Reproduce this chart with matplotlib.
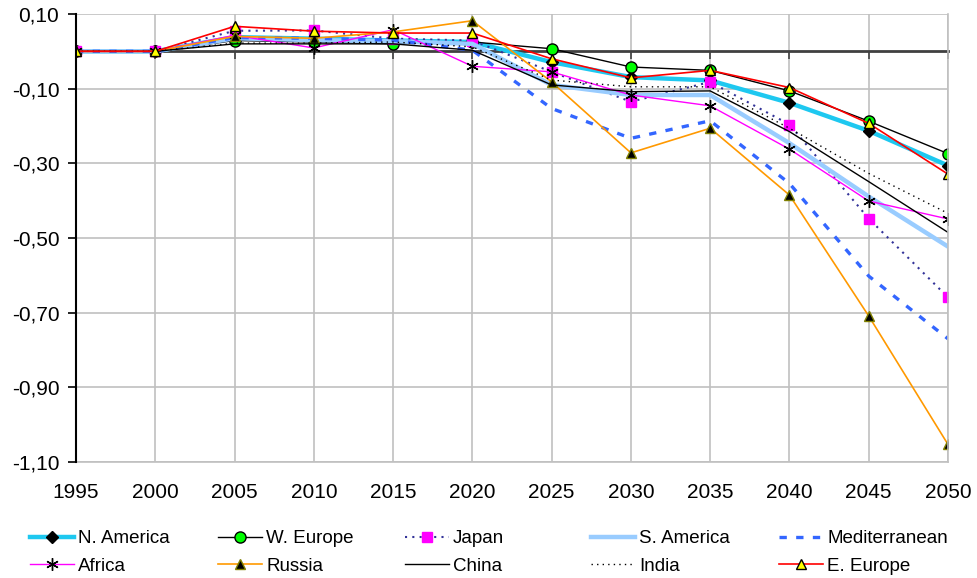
import matplotlib
matplotlib.use("Agg")
import matplotlib.pyplot as plt
from matplotlib.ticker import FixedLocator, FuncFormatter

plt.rcParams['font.family'] = ['Liberation Sans', 'DejaVu Sans']

years = [1995, 2000, 2005, 2010, 2015, 2020, 2025, 2030, 2035, 2040, 2045, 2050]

n_america = [0, 0, 0.038, 0.034, 0.029, 0.025, -0.029, -0.069, -0.078, -0.138, -0.213, -0.306]
w_europe = [0, 0, 0.029, 0.025, 0.020, 0.025, 0.007, -0.042, -0.051, -0.106, -0.187, -0.274]
japan = [0, 0, 0.055, 0.056, 0.034, 0.029, -0.055, -0.135, -0.082, -0.196, -0.448, -0.659]
s_america = [0, 0, 0.035, 0.030, 0.027, 0.020, -0.090, -0.117, -0.117, -0.246, -0.389, -0.523]
mediterranean = [0, 0, 0.037, 0.035, 0.030, 0.003, -0.153, -0.233, -0.186, -0.354, -0.602, -0.770]
africa = [0, 0, 0.043, 0.009, 0.058, -0.040, -0.055, -0.117, -0.146, -0.262, -0.401, -0.449]
russia = [0, 0, 0.040, 0.035, 0.052, 0.082, -0.082, -0.272, -0.206, -0.385, -0.709, -1.053]
china = [0, 0, 0.020, 0.020, 0.020, 0.003, -0.090, -0.108, -0.106, -0.215, -0.349, -0.485]
india = [0, 0, 0.022, 0.022, 0.025, 0.012, -0.077, -0.095, -0.095, -0.206, -0.327, -0.434]
e_europe = [0, 0, 0.067, 0.054, 0.049, 0.049, -0.020, -0.071, -0.051, -0.097, -0.193, -0.329]

y_ticks = [0.10, -0.10, -0.30, -0.50, -0.70, -0.90, -1.10]

fig = plt.figure(figsize=(9.77, 5.78), dpi=100)
ax = fig.add_axes([76 / 977, 1 - 462 / 578, (948 - 76) / 977, (462 - 14) / 578])

h = {}
h['N. America'], = ax.plot(years, n_america, color='#1EC8F0', lw=3.2, marker='D', ms=6,
                           mfc='black', mec='black', label='N. America')
h['W. Europe'], = ax.plot(years, w_europe, color='black', lw=1.0, marker='o', ms=8,
                          mfc='#00FF00', mec='black', mew=1.0, label='W. Europe')
h['Japan'], = ax.plot(years, japan, color='#333399', lw=1.5, ls=(0, (1, 2.5)), marker='s', ms=6.5,
                      mfc='#FF00FF', mec='#FF00FF', label='Japan')
h['S. America'], = ax.plot(years, s_america, color='#99CCFF', lw=3.2, label='S. America')
h['Mediterranean'], = ax.plot(years, mediterranean, color='#3366FF', lw=2.4, ls=(0, (2.2, 2.8)),
                              label='Mediterranean')
h['Africa'], = ax.plot(years, africa, color='#FF00FF', lw=1.0, marker=(6, 2, 0), ms=9,
                       mec='black', mew=1.0, label='Africa')
h['Russia'], = ax.plot(years, russia, color='#FF9900', lw=1.2, marker='^', ms=7,
                       mfc='black', mec='#808000', mew=1.0, label='Russia')
h['China'], = ax.plot(years, china, color='black', lw=1.0, label='China')
h['India'], = ax.plot(years, india, color='black', lw=1.0, ls=(0, (1, 3)), label='India')
h['E. Europe'], = ax.plot(years, e_europe, color='#FF0000', lw=1.2, marker='^', ms=7.5,
                          mfc='#FFFF00', mec='black', mew=1.0, label='E. Europe')

ax.set_xlim(1995, 2050)
ax.set_ylim(-1.10, 0.10)
ax.set_axisbelow(True)
ax.yaxis.set_major_locator(FixedLocator(y_ticks))
ax.yaxis.set_major_formatter(FuncFormatter(lambda v, p: f"{v:.2f}".replace('.', ',')))
ax.xaxis.set_major_locator(FixedLocator(years))
ax.grid(True, color='#C0C0C0', lw=1.2)

# category axis crossing at zero
ax.spines['bottom'].set_position(('data', 0))
ax.spines['bottom'].set_color('#404040')
ax.spines['bottom'].set_linewidth(2.0)
ax.spines['bottom'].set_zorder(1.5)
ax.tick_params(axis='x', direction='out', length=6, width=1.2, color='#404040', labelbottom=False)
ax.spines['left'].set_color('black')
ax.spines['left'].set_linewidth(1.5)
ax.spines['top'].set_visible(False)
ax.spines['right'].set_color('#C0C0C0')
ax.spines['right'].set_linewidth(1.2)
ax.tick_params(axis='y', direction='out', length=6, width=1.2, color='black', labelsize=15, pad=6)

sec = ax.secondary_xaxis(0.0)
sec.set_xticks(years)
sec.set_xticklabels([str(y) for y in years])
sec.tick_params(length=0, labelsize=15, pad=15)
sec.spines['bottom'].set_color('#C0C0C0')
sec.spines['bottom'].set_linewidth(1.2)

cols = [('N. America', 'Africa'), ('W. Europe', 'Russia'), ('Japan', 'China'),
        ('S. America', 'India'), ('Mediterranean', 'E. Europe')]
col_x = [30, 218, 405, 591, 779]
for names, x in zip(cols, col_x):
    lg = fig.legend([h[n] for n in names], list(names), loc='upper left',
                    bbox_to_anchor=(x / 977, 1 - 530 / 578), frameon=False,
                    fontsize=13.5, handlelength=2.35, handletextpad=0.22,
                    borderpad=0, borderaxespad=0, labelspacing=0.55)

fig.savefig('out.png', dpi=100)
